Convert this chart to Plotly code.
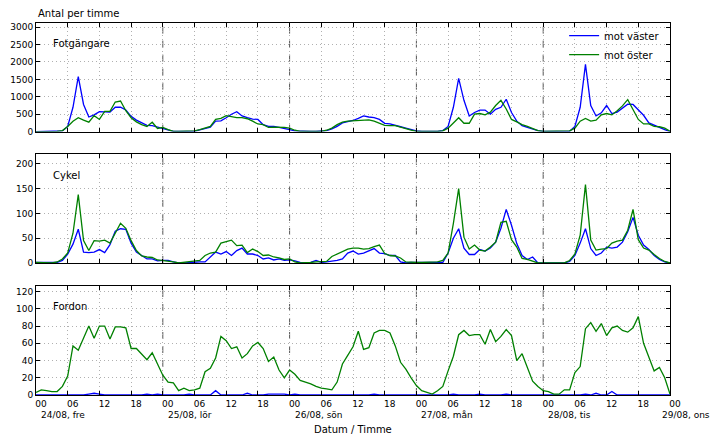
import plotly.graph_objects as go
from plotly.subplots import make_subplots

hours = list(range(121))

tick_hours = list(range(0, 121, 6))
tick_text = ["00", "06", "12", "18"] * 5 + ["00"]
day_hours = [0, 24, 48, 72, 96, 120]
day_labels = ["24/08, fre", "25/08, lör", "26/08, sön", "27/08, mån", "28/08, tis", "29/08, ons"]

series_names = ["mot väster", "mot öster"]
panel_names = ["Fotgängare", "Cykel", "Fordon"]

# Fotgängare (pedestrians)
fot_vaster = [
    0, 0, 0, 0, 5, 20, 150, 700, 1580, 780, 420, 480, 575, 575, 560, 700, 700, 620, 440, 330, 250, 180, 170, 130,
    80, 40, 10, 5, 5, 5, 10, 50, 100, 130, 300, 310, 400, 500, 570, 450, 400, 360, 350, 200, 150, 150, 120, 100,
    60, 20, 10, 5, 5, 5, 20, 30, 80, 150, 250, 280, 320, 380, 450, 420, 400, 350, 240, 220, 170, 140, 100, 60,
    20, 5, 5, 5, 5, 30, 150, 700, 1530, 900, 450, 550, 620, 620, 500, 640, 700, 930, 550, 300, 170, 120, 70, 30,
    5, 5, 5, 5, 5, 10, 150, 700, 1930, 750, 450, 540, 750, 520, 560, 680, 790, 780, 620, 470, 250, 180, 120, 60,
    0,
]
fot_oster = [
    0, 0, 0, 0, 5, 30, 150, 300, 400, 330, 270, 460, 350, 580, 580, 850, 880, 600, 400, 280, 200, 150, 270, 90,
    120, 60, 10, 5, 5, 5, 20, 60, 110, 150, 350, 380, 460, 420, 400, 400, 370, 300, 220, 200, 120, 130, 130, 120,
    100, 40, 10, 5, 5, 5, 10, 40, 100, 200, 270, 300, 310, 320, 330, 340, 300, 250, 180, 170, 170, 130, 80, 40,
    10, 5, 5, 5, 5, 20, 100, 250, 400, 240, 240, 500, 520, 480, 560, 750, 900, 650, 350, 280, 200, 150, 80, 30,
    5, 5, 5, 5, 5, 20, 100, 300, 380, 300, 330, 480, 520, 480, 600, 740, 920, 650, 350, 220, 220, 150, 140, 100,
    10,
]

# Cykel (bicycles)
cyk_vaster = [
    1, 1, 1, 0, 1, 5, 18, 38, 68, 22, 21, 22, 27, 21, 37, 64, 69, 68, 40, 22, 15, 8, 8, 4,
    5, 5, 2, 0, 0, 1, 1, 2, 2, 12, 22, 18, 23, 15, 25, 30, 18, 18, 15, 8, 10, 6, 8, 5,
    6, 4, 1, 0, 1, 5, 1, 2, 3, 5, 8, 20, 24, 18, 20, 25, 29, 20, 19, 15, 15, 2, 0, 1,
    1, 0, 0, 0, 0, 1, 20, 50, 69, 30, 17, 17, 27, 24, 30, 42, 70, 108, 76, 39, 15, 7, 12, 0,
    0, 0, 0, 0, 0, 3, 15, 40, 69, 29, 15, 20, 32, 30, 32, 42, 63, 92, 56, 36, 27, 15, 7, 2,
    0,
]
cyk_oster = [
    1, 1, 1, 0, 2, 8, 20, 60, 138, 45, 25, 45, 44, 46, 40, 60, 80, 70, 45, 25, 14, 12, 11, 6,
    5, 3, 2, 0, 1, 2, 4, 5, 15, 20, 22, 40, 43, 46, 35, 36, 21, 28, 23, 15, 16, 12, 10, 7,
    8, 2, 0, 0, 1, 2, 3, 3, 13, 18, 23, 28, 30, 30, 28, 29, 33, 36, 19, 15, 14, 10, 2, 1,
    1, 1, 1, 1, 2, 5, 20, 80, 150, 52, 28, 36, 26, 24, 32, 42, 82, 84, 47, 32, 9, 7, 3, 0,
    0, 0, 0, 0, 0, 5, 18, 56, 158, 46, 26, 28, 29, 40, 44, 46, 66, 108, 47, 30, 26, 17, 9, 3,
    0,
]

# Fordon (vehicles)
ford_vaster = [
    0, 0, 0, 0, 0, 0, 0, 0, 0, 0, 1, 2, 1, 0, 0, 0, 0, 0, 0, 0, 0, 1, 0, 1,
    0, 0, 0, 0, 0, 1, 0, 0, 0, 0, 5, 0, 0, 0, 0, 0, 2, 0, 0, 0, 1, 1, 1, 1,
    0, 1, 0, 0, 0, 0, 0, 0, 0, 0, 0, 0, 0, 0, 0, 0, 1, 0, 0, 0, 0, 0, 0, 0,
    0, 0, 0, 0, 0, 0, 0, 1, 0, 0, 0, 0, 1, 0, 0, 0, 0, 1, 0, 0, 0, 0, 0, 0,
    0, 0, 0, 0, 0, 0, 0, 0, 1, 0, 2, 0, 0, 4, 0, 0, 0, 0, 0, 0, 0, 0, 0, 0,
    0,
]
ford_oster = [
    3, 6, 5, 4, 4, 10, 22, 57, 52, 67, 80, 66, 80, 80, 65, 79, 79, 78, 54, 54, 47, 41, 49, 36,
    23, 15, 14, 5, 8, 5, 6, 8, 27, 31, 43, 68, 63, 54, 56, 43, 48, 57, 61, 54, 39, 44, 29, 20,
    29, 24, 17, 15, 13, 10, 8, 7, 6, 15, 36, 46, 56, 74, 53, 55, 72, 75, 75, 72, 57, 38, 30, 20,
    11, 5, 3, 1, 5, 10, 28, 45, 70, 75, 69, 70, 70, 59, 76, 62, 68, 76, 69, 40, 48, 32, 16, 10,
    5, 4, 1, 1, 6, 6, 26, 33, 77, 84, 74, 83, 69, 78, 80, 75, 73, 78, 91, 60, 44, 28, 32, 20,
    1,
]

panels = [
    (fot_vaster, fot_oster, [0, 3120], list(range(0, 3001, 500))),
    (cyk_vaster, cyk_oster, [0, 220], list(range(0, 201, 50))),
    (ford_vaster, ford_oster, [0, 127], list(range(0, 121, 20))),
]

colors = ["#0000ff", "#008000"]
FONT = "DejaVu Sans"

fig = make_subplots(rows=3, cols=1, shared_xaxes=True, vertical_spacing=0.06)

for i, (v, o, yr, yt) in enumerate(panels, start=1):
    for name, vals, col in zip(series_names, (v, o), colors):
        fig.add_trace(
            go.Scatter(x=hours, y=vals, mode="lines", name=name,
                       line=dict(color=col, width=1.3),
                       showlegend=(i == 1)),
            row=i, col=1,
        )
    fig.update_yaxes(range=yr, tickvals=yt, row=i, col=1)

domains = [[0.708, 1.0], [0.355, 0.648], [0.0, 0.294]]
for i, d in enumerate(domains, start=1):
    key = "yaxis" if i == 1 else f"yaxis{i}"
    fig.layout[key].domain = d

fig.update_yaxes(
    showline=True, linecolor="black", linewidth=1, mirror="ticks",
    ticks="inside", ticklen=4, tickcolor="black",
    showgrid=True, gridcolor="#b0b0b0", griddash="1px,3px", gridwidth=1,
    zeroline=False, tickfont=dict(family=FONT, size=9, color="black"),
    automargin=False,
)
fig.update_xaxes(
    range=[0, 120], tickvals=tick_hours, ticktext=tick_text,
    showline=True, linecolor="black", linewidth=1, mirror="ticks",
    ticks="inside", ticklen=4, tickcolor="black",
    showgrid=True, gridcolor="#b0b0b0", griddash="1px,3px", gridwidth=1,
    zeroline=False, tickfont=dict(family=FONT, size=9, color="black"),
    showticklabels=False, automargin=False,
)
fig.update_xaxes(showticklabels=True, ticklabelshift=5, ticklabelstandoff=0, row=3, col=1)

shapes = []
for i in range(1, 4):
    xr = "x" if i == 1 else f"x{i}"
    yr = "y domain" if i == 1 else f"y{i} domain"
    for d in day_hours[1:-1]:
        shapes.append(dict(type="line", xref=xr, yref=yr, x0=d, x1=d, y0=0, y1=1,
                           line=dict(color="#555555", width=1, dash="7px,7px"), layer="below"))

annotations = []
for name, y in zip(panel_names, [0.944, 0.589, 0.237]):
    annotations.append(dict(text=name, xref="paper", yref="paper", x=0.0237, y=y,
                            xanchor="left", yanchor="middle", showarrow=False,
                            font=dict(family=FONT, size=10, color="black")))
annotations.append(dict(text="Antal per timme", xref="paper", yref="paper", x=0, y=1.0242,
                        xanchor="left", yanchor="middle", showarrow=False,
                        font=dict(family=FONT, size=10, color="black")))
annotations.append(dict(text="Datum / Timme", xref="paper", yref="paper", x=0.5, y=-0.0927,
                        xanchor="center", yanchor="middle", showarrow=False,
                        font=dict(family=FONT, size=10, color="black")))
for d, lab in zip(day_hours, day_labels):
    last = d == day_hours[-1]
    annotations.append(dict(text=lab, xref="x3", yref="paper", x=d, y=-0.0545,
                            xshift=(42 if last else 3),
                            xanchor=("right" if last else "left"), yanchor="middle",
                            showarrow=False,
                            font=dict(family=FONT, size=9, color="black")))

# The page body has an 8px margin, so the figure is made 8px smaller
# and the left/top margins are reduced by 8px.
fig.update_layout(
    width=713, height=428,
    margin=dict(l=28, r=51, t=15, b=41, autoexpand=False),
    paper_bgcolor="white", plot_bgcolor="white",
    font=dict(family=FONT, size=10, color="black"),
    shapes=shapes, annotations=annotations,
    legend=dict(x=0.833, y=1.005, xanchor="left", yanchor="top",
                bgcolor="rgba(0,0,0,0)", font=dict(family=FONT, size=10, color="black"),
                tracegroupgap=0),
)

fig.write_html("out.html")
